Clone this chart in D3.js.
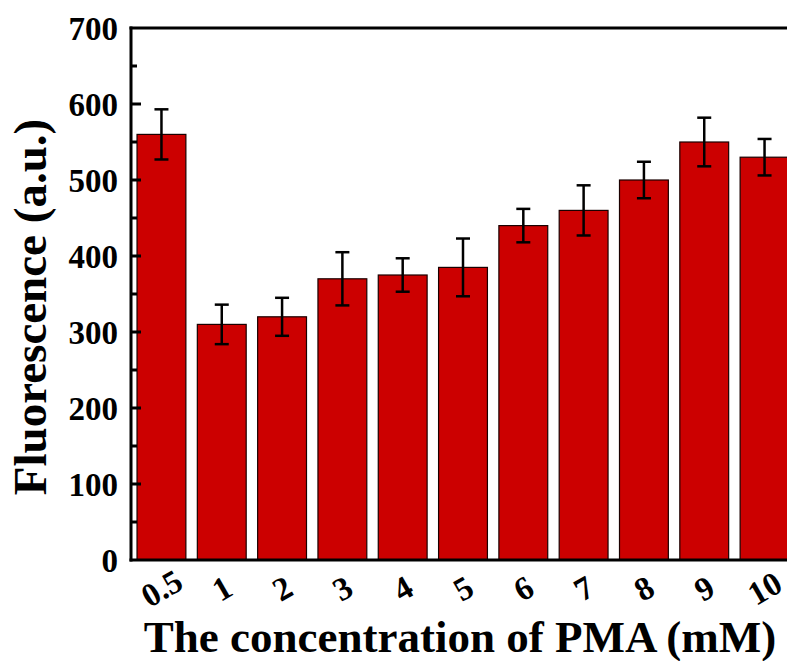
<!DOCTYPE html>
<html>
<head>
<meta charset="utf-8">
<script src="https://cdn.jsdelivr.net/npm/d3@7"></script>
<style>
  body { margin: 0; background: #fff; }
  svg { display: block; }
  text { font-family: "Liberation Serif", "Times New Roman", serif; font-weight: bold; fill: #000; }
</style>
</head>
<body>
<div id="chart"></div>
<script>
// Data
const categories = ["0.5", "1", "2", "3", "4", "5", "6", "7", "8", "9", "10"];
const values = [560, 310, 320, 370, 375, 385, 440, 460, 500, 550, 530];
const errors = [33, 26, 25, 35, 22, 38, 22, 33, 24, 32, 24];
const yTicks = [0, 100, 200, 300, 400, 500, 600, 700];

const width = 787;
const height = 661;
const plotLeft = 131, plotTop = 28, plotBottom = 560;

const svg = d3.select("#chart")
              .append("svg")
              .attr("width", width)
              .attr("height", height);

// Scales
const x = d3.scaleBand()
            .domain(categories)
            .range([plotLeft, 795])
            .paddingInner(0.19)
            .paddingOuter(0.1);

const y = d3.scaleLinear()
            .domain([0, 700])
            .range([plotBottom, plotTop]);

// Bars
svg.append("g")
   .selectAll("rect")
   .data(categories)
   .enter().append("rect")
   .attr("x", d => x(d))
   .attr("y", (d, i) => y(values[i]))
   .attr("width", x.bandwidth())
   .attr("height", (d, i) => y(0) - y(values[i]))
   .attr("fill", "#cc0000")
   .attr("stroke", "#1a0000")
   .attr("stroke-width", 1.2);

// Error bars
const err = svg.append("g")
               .attr("stroke", "#000")
               .attr("stroke-width", 2.5);

categories.forEach((c, i) => {
    const cx = x(c) + x.bandwidth() / 2;
    const hi = y(values[i] + errors[i]);
    const lo = y(values[i] - errors[i]);
    err.append("line").attr("x1", cx).attr("x2", cx).attr("y1", hi).attr("y2", lo);
    err.append("line").attr("x1", cx - 7).attr("x2", cx + 7).attr("y1", hi).attr("y2", hi);
    err.append("line").attr("x1", cx - 7).attr("x2", cx + 7).attr("y1", lo).attr("y2", lo);
});

// Frame: left axis, top line, bottom line
const frame = svg.append("g")
                 .attr("stroke", "#000")
                 .attr("stroke-width", 3)
                 .attr("fill", "none");
frame.append("line").attr("x1", plotLeft).attr("x2", plotLeft).attr("y1", plotTop - 1.5).attr("y2", plotBottom + 1.5);
frame.append("line").attr("x1", plotLeft - 1.5).attr("x2", width).attr("y1", plotTop).attr("y2", plotTop);
frame.append("line").attr("x1", plotLeft - 1.5).attr("x2", width).attr("y1", plotBottom).attr("y2", plotBottom);

// Y ticks (inward), major and minor
const minor = d3.range(50, 700, 100);
frame.selectAll(".major")
     .data(yTicks.slice(1, -1))
     .enter().append("line")
     .attr("x1", plotLeft).attr("x2", plotLeft + 10)
     .attr("y1", d => y(d)).attr("y2", d => y(d));
frame.selectAll(".minor")
     .data(minor)
     .enter().append("line")
     .attr("x1", plotLeft).attr("x2", plotLeft + 6)
     .attr("y1", d => y(d)).attr("y2", d => y(d));

// Y tick labels
svg.append("g")
   .selectAll("text")
   .data(yTicks)
   .enter().append("text")
   .attr("x", plotLeft - 13)
   .attr("y", d => y(d))
   .attr("dy", "0.35em")
   .attr("text-anchor", "end")
   .attr("font-size", 33)
   .text(d => d);

// X tick labels, rotated
svg.append("g")
   .selectAll("text")
   .data(categories)
   .enter().append("text")
   .attr("transform", d => `translate(${x(d) + x.bandwidth() / 2},${588}) rotate(-30)`)
   .attr("text-anchor", "middle")
   .attr("dy", "0.35em")
   .attr("font-size", 33)
   .text(d => d);

// Axis titles
svg.append("text")
   .attr("x", 460)
   .attr("y", 652)
   .attr("text-anchor", "middle")
   .attr("font-size", 45)
   .text("The concentration of PMA (mM)");

svg.append("text")
   .attr("transform", "translate(46,307) rotate(-90)")
   .attr("text-anchor", "middle")
   .attr("font-size", 47)
   .text("Fluorescence (a.u.)");
</script>
</body>
</html>
